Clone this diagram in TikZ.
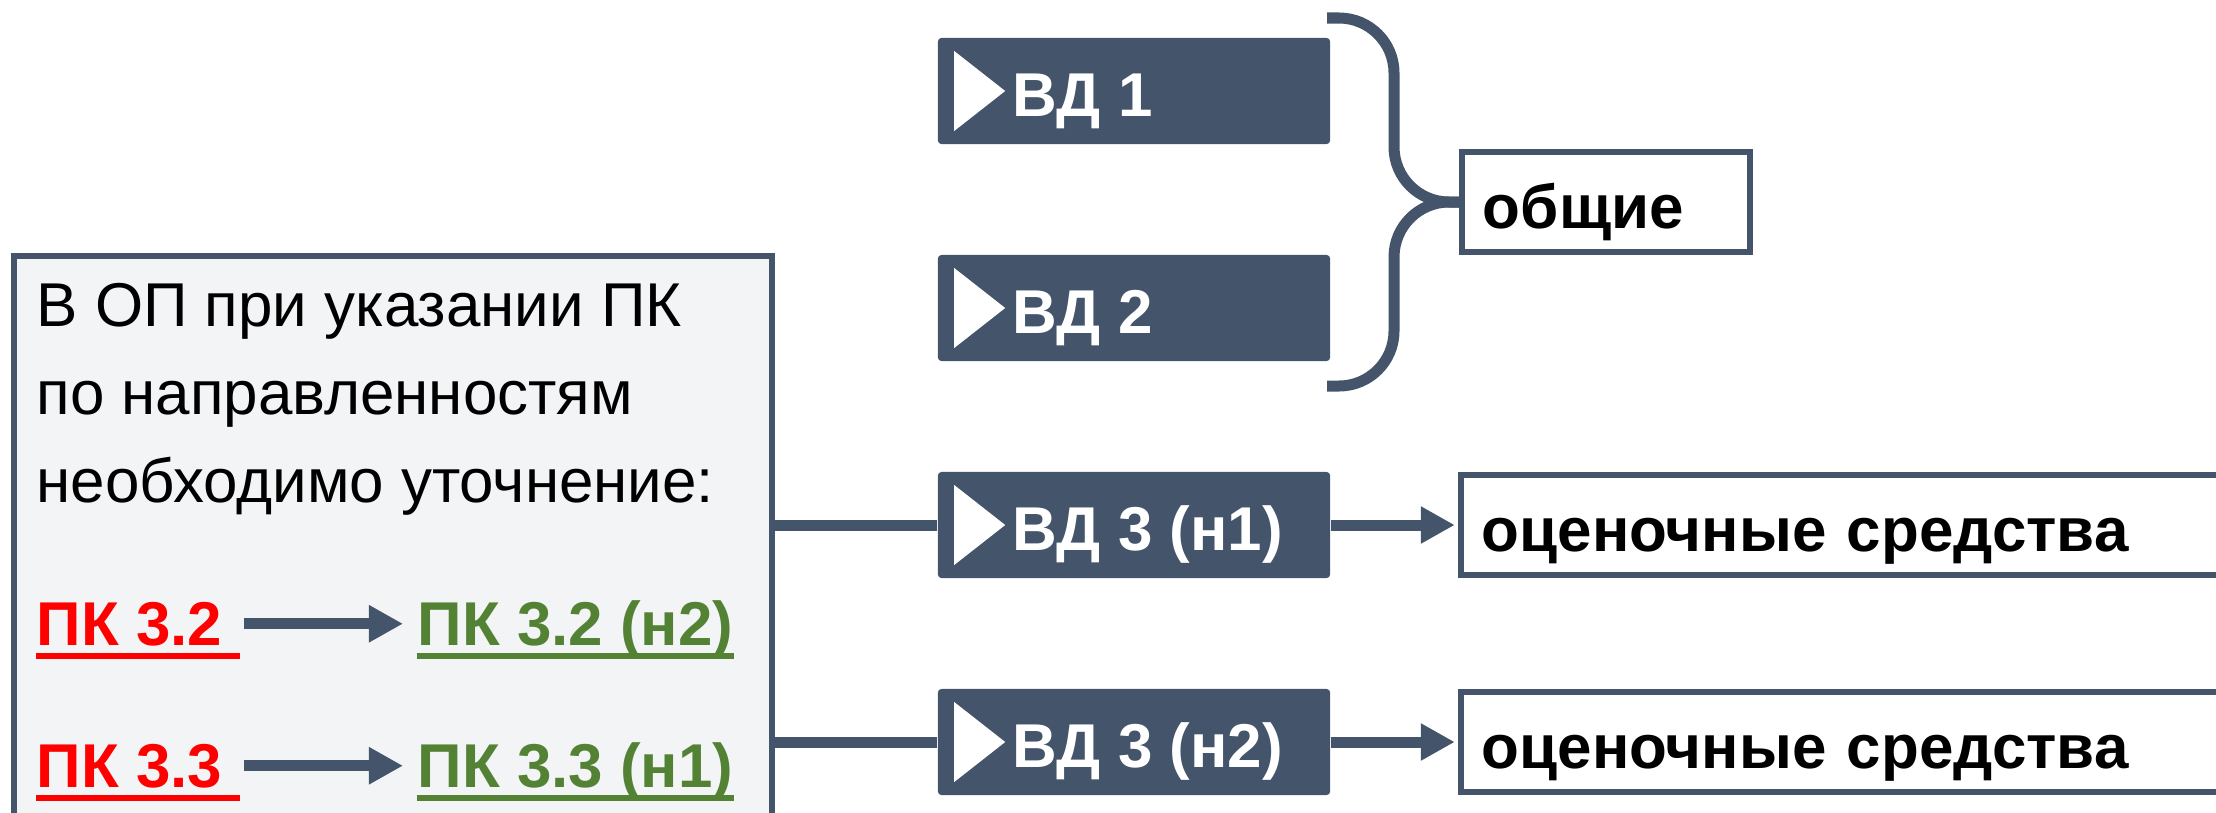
\documentclass[tikz,border=0pt]{standalone}
\usepackage{fontspec}
\setmainfont{Liberation Sans}
\usepackage{tikz}
\usetikzlibrary{calc, arrows.meta}
\definecolor{slate}{HTML}{44546A}
\definecolor{boxgray}{HTML}{F3F4F6}
\definecolor{pkgreen}{HTML}{548235}
\newcommand{\bigfont}{\fontsize{17.6}{25}\selectfont}

\begin{document}
\begin{tikzpicture}[x=0.01cm, y=-0.01cm,
  opbox/.style={draw=slate, fill=boxgray, line width=0.06cm, minimum width=7.58cm, minimum height=6.04cm},
  optext/.style={font=\bigfont, align=left, inner sep=0, anchor=north west},
  pktext/.style={font=\bigfont\bfseries, anchor=base west, inner sep=0},
  vdbox/.style={fill=slate, rounded corners=1pt, minimum width=3.92cm, minimum height=1.06cm, inner sep=0},
  vdtext/.style={text=white, font=\bigfont\bfseries, anchor=base west, inner sep=0},
  wbox/.style={draw=slate, line width=0.06cm, fill=white, minimum height=1.0cm, inner sep=0, inner xsep=0.21cm,
    align=left, font=\bigfont\bfseries, text height=0.66cm, text depth=0.14cm},
  brace/.style={draw=slate, line width=0.11cm, rounded corners=0.55cm},
  link/.style={draw=slate, line width=0.11cm},
  arr/.style={draw=slate, fill=slate, line width=0.11cm, -{Triangle[length=0.34cm, width=0.35cm]}}]
\useasboundingbox (0,0) rectangle (2216,812);
\clip (0,0) rectangle (2216,812);

%%%left box
\node[opbox] (op) at (393,558) {};
\node[optext] (optxt) at (36,283) {В ОП при указании ПК\\по направленностям\\необходимо уточнение:};
\node[pktext, text=red] (pk32) at (36,645) {ПК 3.2\mbox{ }};
\node[pktext, text=pkgreen] (pk32n) at (417,645) {ПК 3.2 (н2)};
\node[pktext, text=red] (pk33) at (36,787) {ПК 3.3\mbox{ }};
\node[pktext, text=pkgreen] (pk33n) at (417,787) {ПК 3.3 (н1)};
\foreach \n/\c in {pk32/red, pk32n/pkgreen, pk33/red, pk33n/pkgreen}
  \draw[\c, line width=0.06cm] ([yshift=-0.11cm]\n.base west) -- ([yshift=-0.11cm]\n.base east);
\draw[arr, shorten <=0.04cm, shorten >=0.14cm] (pk32.east) -- (pk32.east -| pk32n.west);
\draw[arr, shorten <=0.04cm, shorten >=0.14cm] (pk33.east) -- (pk33.east -| pk33n.west);

%%%VD boxes
\foreach \n/\y/\t in {vd1/91/ВД 1, vd2/308/ВД 2, vd3/525/ВД 3 (н1), vd4/742/ВД 3 (н2)} {
  \node[vdbox] (\n) at (1134,\y) {};
  \fill[white] ([shift={(17,-40)}]\n.west) -- ([shift={(17,40)}]\n.west) -- ([shift={(68,0)}]\n.west) -- cycle;
  \node[vdtext] (\n t) at ([shift={(75,25)}]\n.west) {\t};
}

%%%general
\node[wbox, text width=2.46cm] (obsh) at (1606,202) {общие};
\draw[brace] (1327,18) -- (1394,18) -- (1394,202) -- (obsh.west);
\draw[brace] (obsh.west) -- (1394,202) -- (1394,386) -- (1327,386);

%%%assessment
\node[wbox, text width=7.58cm] (ocs1) at (1861,525) {оценочные средства};
\node[wbox, text width=7.58cm] (ocs2) at (1861,742) {оценочные средства};
\draw[link] (op.east |- vd3) -- (vd3);
\draw[link] (op.east |- vd4) -- (vd4);
\draw[arr, shorten >=0.03cm] (vd3) -- (ocs1);
\draw[arr, shorten >=0.03cm] (vd4) -- (ocs2);

\end{tikzpicture}
\end{document}
